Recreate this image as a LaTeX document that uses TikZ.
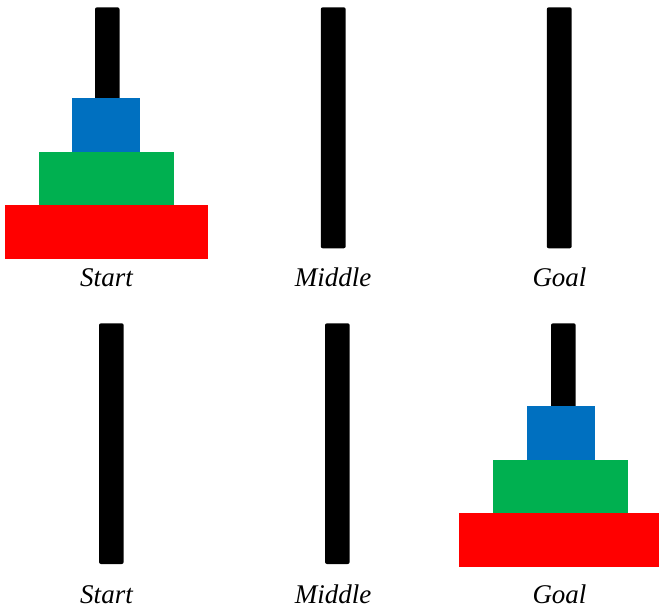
\documentclass[tikz,border=0pt]{standalone}
\usepackage{fontspec}
\setmainfont{Liberation Serif}
\newfontfamily\lblfont{Liberation Serif}
\definecolor{diskblue}{HTML}{0070C0}
\definecolor{diskgreen}{HTML}{00B050}
\definecolor{diskred}{HTML}{FF0000}
\tikzset{
  peg/.style={fill=black, rounded corners=2pt},
  lbl/.style={anchor=base, inner sep=0pt, font=\lblfont\fontsize{27}{30}\selectfont\itshape},
}
\begin{document}
\begin{tikzpicture}[x=1pt,y=-1pt]
\useasboundingbox (0,0) rectangle (659,612);
% top row pegs
\fill[peg] (95,7.3) rectangle (119.5,248.3);
\fill[peg] (320.8,7.3) rectangle (345.7,248.3);
\fill[peg] (546.8,7.3) rectangle (571.7,248.3);
% top row disks
\fill[diskblue] (72,98) rectangle (140,152);
\fill[diskgreen] (39,152) rectangle (174,205.3);
\fill[diskred] (5,205.3) rectangle (208.3,258.7);
% top labels
\node[lbl] (s1) at (106.5,287) {Start};
\node[lbl] (m1) at (333,287) {Middle};
\node[lbl] (g1) at (559.5,287) {Goal};
% bottom row pegs
\fill[peg] (99,323.3) rectangle (123.7,564);
\fill[peg] (325,323.3) rectangle (349.7,564);
\fill[peg] (551,323.3) rectangle (575.7,564);
% bottom row disks
\fill[diskblue] (527,406) rectangle (595,460);
\fill[diskgreen] (493,460) rectangle (628,513.3);
\fill[diskred] (459,513.3) rectangle (659,567);
% bottom labels
\node[lbl] (s2) at (106.5,603) {Start};
\node[lbl] (m2) at (333,603) {Middle};
\node[lbl] (g2) at (559.5,603) {Goal};
\end{tikzpicture}
\end{document}
